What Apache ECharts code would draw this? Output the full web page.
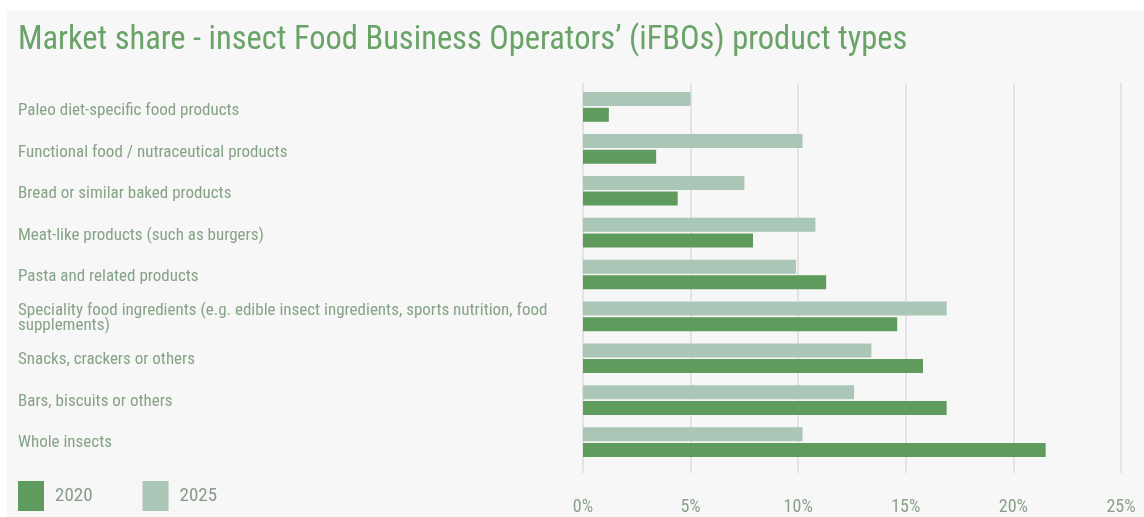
<!DOCTYPE html>
<html>
<head>
<meta charset="utf-8">
<script src="https://cdn.jsdelivr.net/npm/echarts@6/dist/echarts.min.js"></script>
<style>
  html, body { margin: 0; padding: 0; background: #ffffff; }
  #panel { position: absolute; left: 7px; top: 10px; right: 0; bottom: 0; background: #f7f7f7; }
  #chart { position: absolute; left: 0; top: 0; width: 1144px; height: 517px; }
</style>
</head>
<body>
<div id="panel"></div>
<div id="chart"></div>
<script>
// Product types, top to bottom
const categories = [
  'Paleo diet-specific food products',
  'Functional food / nutraceutical products',
  'Bread or similar baked products',
  'Meat-like products (such as burgers)',
  'Pasta and related products',
  'Speciality food ingredients (e.g. edible insect ingredients, sports nutrition, food supplements)',
  'Snacks, crackers or others',
  'Bars, biscuits or others',
  'Whole insects'
];

// Market share (%) per product type
const share2020 = [1.2, 3.4, 4.4, 7.9, 11.3, 14.6, 15.8, 16.9, 21.5];
const share2025 = [5.0, 10.2, 7.5, 10.8, 9.9, 16.9, 13.4, 12.6, 10.2];

const seriesNames = ['2020', '2025'];
const axisMin = 0, axisMax = 25, axisStep = 5;

const FONT = "'Roboto Condensed', 'Liberation Sans Narrow', 'DejaVu Sans Condensed', Roboto, sans-serif";
const DARK = '#5f9b5d';
const LIGHT = '#aac6b6';

const chart = echarts.init(document.getElementById('chart'), null, { renderer: 'canvas' });

chart.setOption({
  backgroundColor: 'transparent',
  animation: false,
  textStyle: { fontFamily: FONT },
  title: {
    text: "Market share - insect Food Business Operators\u2019 (iFBOs) product types",
    left: 13,
    top: 19,
    textStyle: { fontFamily: FONT, fontSize: 32.5, fontWeight: 'normal', color: '#6aa368' }
  },
  legend: {
    data: seriesNames,
    left: 18,
    top: 481,
    padding: 0,
    icon: 'rect',
    itemWidth: 26,
    itemHeight: 30,
    itemGap: 50,
    textStyle: { fontFamily: FONT, fontSize: 19, color: '#8a9a8a', padding: [2, 0, 0, 6] }
  },
  // 0: bars, 1: vertical grid lines and % labels, 2: category labels
  grid: [
    { left: 583, right: 23, top: 86, bottom: 54 },
    { left: 583, right: 23, top: 83, bottom: 44 },
    { left: 583, right: 23, top: 90, bottom: 53 }
  ],
  xAxis: [
    { type: 'value', gridIndex: 0, min: axisMin, max: axisMax, interval: axisStep, show: false },
    {
      type: 'value', gridIndex: 1, min: axisMin, max: axisMax, interval: axisStep,
      axisLine: { show: false },
      axisTick: { show: false },
      splitLine: { show: true, lineStyle: { color: '#dcdcdc', width: 1.5 } },
      axisLabel: {
        formatter: '{value}%',
        margin: 25,
        fontFamily: FONT,
        fontSize: 18,
        color: '#8aa08a'
      }
    },
    { type: 'value', gridIndex: 2, min: axisMin, max: axisMax, show: false }
  ],
  yAxis: [
    {
      type: 'category',
      gridIndex: 0,
      data: categories,
      inverse: true,
      show: false
    },
    { type: 'value', gridIndex: 1, show: false, min: 0, max: 1 },
    {
      type: 'category',
      gridIndex: 2,
      data: categories,
      inverse: true,
      axisLine: { show: false },
      axisTick: { show: false },
      splitLine: { show: false },
      axisLabel: {
        align: 'left',
        margin: 565,
        fontFamily: FONT,
        fontSize: 17,
        color: '#86a386',
        width: 545,
        overflow: 'break',
        lineHeight: 15
      }
    }
  ],
  // 2025 listed first so its bar sits above 2020 within each group
  series: [
    {
      name: '2025', type: 'bar', xAxisIndex: 0, yAxisIndex: 0,
      data: share2025, barWidth: 14, barGap: '12%',
      itemStyle: { color: LIGHT }
    },
    {
      name: '2020', type: 'bar', xAxisIndex: 0, yAxisIndex: 0,
      data: share2020, barWidth: 14, barGap: '12%',
      itemStyle: { color: DARK }
    }
  ]
});
</script>
</body>
</html>
